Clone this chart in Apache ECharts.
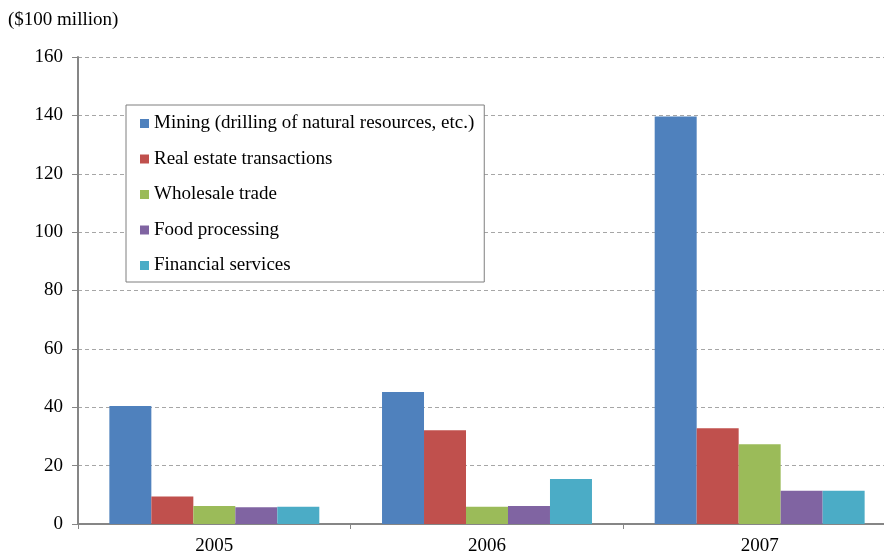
<!DOCTYPE html>
<html>
<head>
<meta charset="utf-8">
<script src="https://cdn.jsdelivr.net/npm/echarts@6/dist/echarts.min.js"></script>
<style>
  html, body { margin: 0; padding: 0; background: #fff; }
  #chart { width: 884px; height: 556px; }
</style>
</head>
<body>
<div id="chart"></div>
<script>
// Investment by industry, $100 million
var years = ['2005', '2006', '2007'];
var seriesNames = [
  'Mining (drilling of natural resources, etc.)',
  'Real estate transactions',
  'Wholesale trade',
  'Food processing',
  'Financial services'
];
var mining = [40.4, 45.2, 139.6];
var realEstate = [9.4, 32.1, 32.8];
var wholesale = [6.2, 5.9, 27.3];
var food = [5.7, 6.2, 11.4];
var financial = [5.9, 15.4, 11.4];
var colors = ['#4F81BD', '#C0504D', '#9BBB59', '#8064A2', '#4BACC6'];

var values = [mining, realEstate, wholesale, food, financial];
var font = '"Liberation Serif", "Times New Roman", serif';

var chart = echarts.init(document.getElementById('chart'), null, { renderer: 'canvas' });

chart.setOption({
  animation: false,
  textStyle: { fontFamily: font },
  color: colors,
  // plot area runs a little past the right edge of the canvas
  grid: { left: 78, width: 818, top: 57, height: 467, containLabel: false, outerBoundsMode: 'none' },
  title: {
    text: '($100 million)',
    left: 3, top: 6,
    textStyle: { fontFamily: font, fontSize: 19, fontWeight: 'normal', color: '#000' }
  },
  legend: {
    orient: 'vertical',
    left: 126, top: 105,
    padding: [9, 10, 7, 14],
    itemWidth: 9, itemHeight: 9,
    itemGap: 16.5,
    icon: 'rect',
    backgroundColor: '#fff',
    borderColor: '#7f7f7f', borderWidth: 1,
    textStyle: { fontFamily: font, fontSize: 19, color: '#000', lineHeight: 19 },
    data: seriesNames
  },
  xAxis: {
    type: 'category',
    data: years,
    axisLine: { lineStyle: { color: '#868686', width: 2 } },
    axisTick: { show: true, length: 5, lineStyle: { color: '#868686', width: 1 } },
    axisLabel: { fontFamily: font, fontSize: 19, color: '#000', margin: 13 },
    splitLine: { show: false }
  },
  yAxis: {
    type: 'value',
    min: 0, max: 160, interval: 20,
    axisLine: { show: true, lineStyle: { color: '#868686', width: 2 } },
    axisTick: { show: true, length: 6, lineStyle: { color: '#868686', width: 1 } },
    axisLabel: { fontFamily: font, fontSize: 19, color: '#000', margin: 15, padding: [0, 0, 4, 0] },
    splitLine: { show: true, lineStyle: { color: '#a6a6a6', type: [4, 3], width: 1 } }
  },
  series: seriesNames.map(function (name, i) {
    return {
      name: name,
      type: 'bar',
      data: values[i],
      barGap: '0%',
      barCategoryGap: '23%',
      itemStyle: { color: colors[i] }
    };
  })
});
</script>
</body>
</html>
